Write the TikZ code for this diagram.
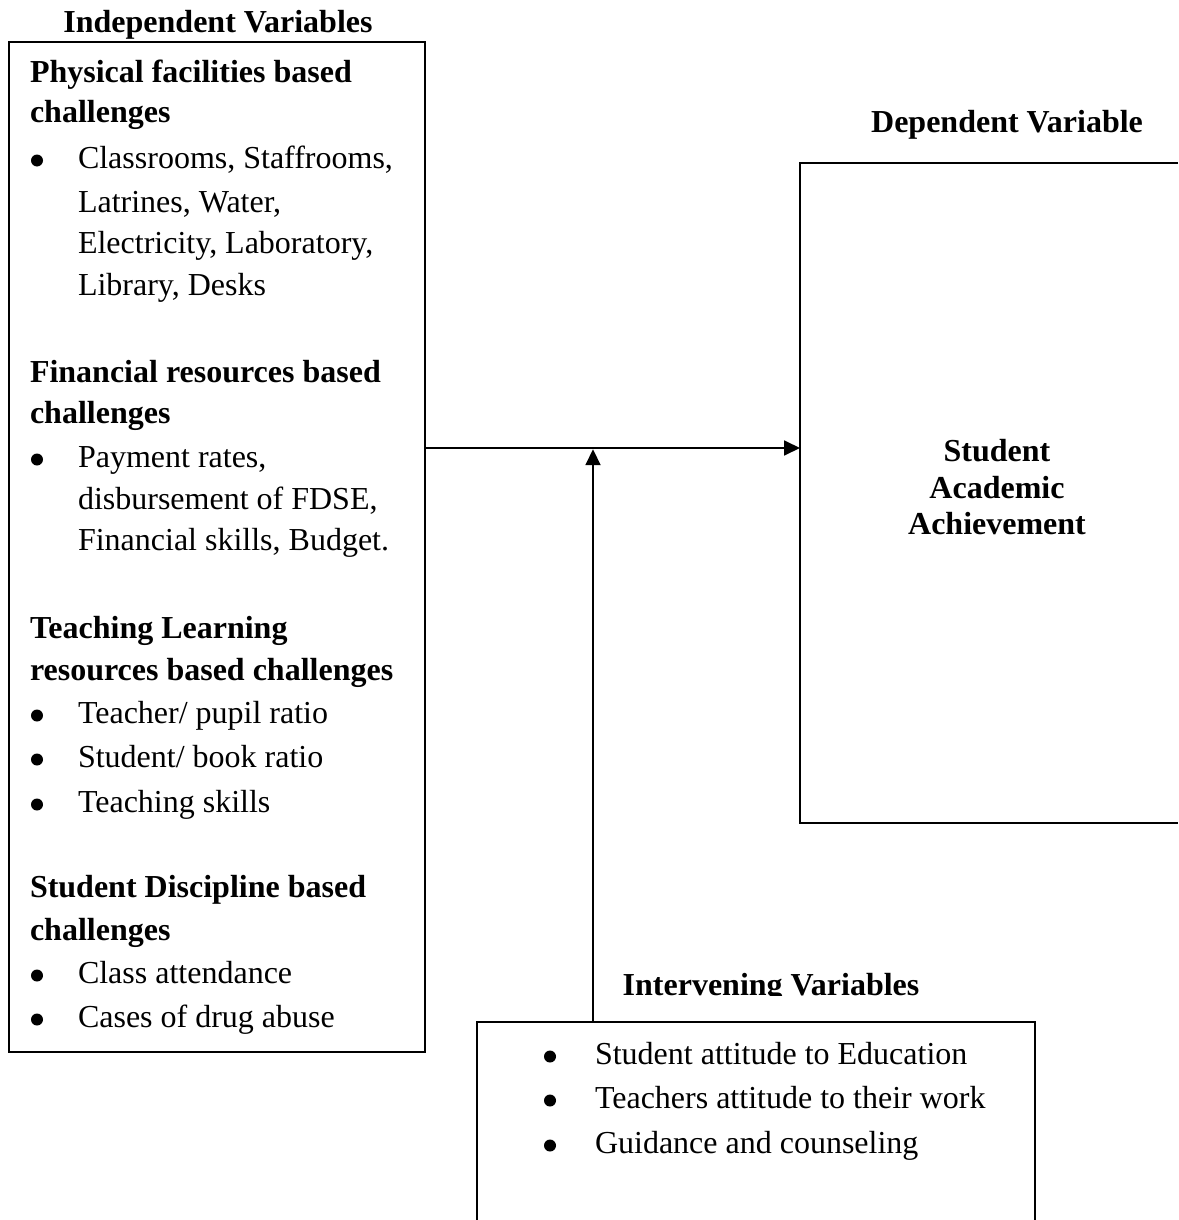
\documentclass[tikz,border=0pt]{standalone}
\usepackage{fontspec}
\setmainfont{Liberation Serif}
\usetikzlibrary{arrows.meta}
\tikzset{
  boxline/.style={line width=1.8pt, line join=miter},
  arr/.style={line width=1.8pt, -{Triangle[length=16pt,width=15pt]}},
  hd/.style={font=\bfseries\fontsize{32}{38}\selectfont, anchor=base west, inner sep=0pt, outer sep=0pt},
  hdc/.style={font=\bfseries\fontsize{32}{38}\selectfont, anchor=base, inner sep=0pt, outer sep=0pt},
  bt/.style={font=\fontsize{32}{38}\selectfont, anchor=base west, inner sep=0pt, outer sep=0pt},
  bul/.style={circle, fill=black, draw=none, inner sep=0pt, outer sep=0pt, minimum size=12pt, yshift=7.5pt},
  area/.style={inner sep=0pt, outer sep=0pt, anchor=north west}
}
\begin{document}
\begin{tikzpicture}[x=1pt,y=-1pt]
\useasboundingbox[fill=white] (0,0) rectangle (1178,1220);

% titles
\node[hdc] (tind) at (218,33) {Independent Variables};
\node[hdc] (tdep) at (1007,132) {Dependent Variable};
\begin{scope}
  \clip (0,0) rectangle (1178,995.5);
  \node[hdc] (tint) at (771,995) {Intervening Variables};
\end{scope}

% boxes
\node[area, draw, boxline, minimum width=416pt, minimum height=1010pt] (ind) at (9,42) {};
\node[area, minimum width=378pt, minimum height=660pt] (dep) at (800,163) {};
\draw[boxline] (dep.north east) -- (dep.north west) -- (dep.south west) -- (dep.south east);
\node[area, minimum width=558pt, minimum height=198pt] (int) at (477,1022) {};
\draw[boxline] (int.south west) -- (int.north west) -- (int.north east) -- (int.south east);

% left box text
\node[hd] (h1a) at (30,83) {Physical facilities based};
\node[hd] (h1b) at (30,123) {challenges};
\node[bul] (b1) at (37,168) {};
\node[bt] (t1a) at (78,168) {Classrooms, Staffrooms,};
\node[bt] (t1b) at (78,212) {Latrines, Water,};
\node[bt] (t1c) at (78,253) {Electricity, Laboratory,};
\node[bt] (t1d) at (78,295) {Library, Desks};

\node[hd] (h2a) at (30,382) {Financial resources based};
\node[hd] (h2b) at (30,423) {challenges};
\node[bul] (b2) at (37,467) {};
\node[bt] (t2a) at (78,467) {Payment rates,};
\node[bt] (t2b) at (78,509) {disbursement of FDSE,};
\node[bt] (t2c) at (78,550) {Financial skills, Budget.};

\node[hd] (h3a) at (30,638) {Teaching Learning};
\node[hd] (h3b) at (30,680) {resources based challenges};
\node[bul] (b3a) at (37,723) {};
\node[bt] (t3a) at (78,723) {Teacher/ pupil ratio};
\node[bul] (b3b) at (37,767) {};
\node[bt] (t3b) at (78,767) {Student/ book ratio};
\node[bul] (b3c) at (37,812) {};
\node[bt] (t3c) at (78,812) {Teaching skills};

\node[hd] (h4a) at (30,897) {Student Discipline based};
\node[hd] (h4b) at (30,940) {challenges};
\node[bul] (b4a) at (37,983) {};
\node[bt] (t4a) at (78,983) {Class attendance};
\node[bul] (b4b) at (37,1027) {};
\node[bt] (t4b) at (78,1027) {Cases of drug abuse};

% dependent text
\node[hdc] (d1) at (997,461) {Student};
\node[hdc] (d2) at (997,498) {Academic};
\node[hdc] (d3) at (997,534) {Achievement};

% intervening text
\node[bul] (ib1) at (550,1064) {};
\node[bt] (it1) at (595,1064) {Student attitude to Education};
\node[bul] (ib2) at (550,1108) {};
\node[bt] (it2) at (595,1108) {Teachers attitude to their work};
\node[bul] (ib3) at (550,1153) {};
\node[bt] (it3) at (595,1153) {Guidance and counseling};

% connectors
\coordinate (hl) at (0,448);
\coordinate (vx) at (593,0);
\draw[arr] (ind.east |- hl) -- (dep.west |- hl);
\draw[arr] (int.north -| vx) -- ([yshift=-1.2pt]vx |- hl);
\end{tikzpicture}
\end{document}
